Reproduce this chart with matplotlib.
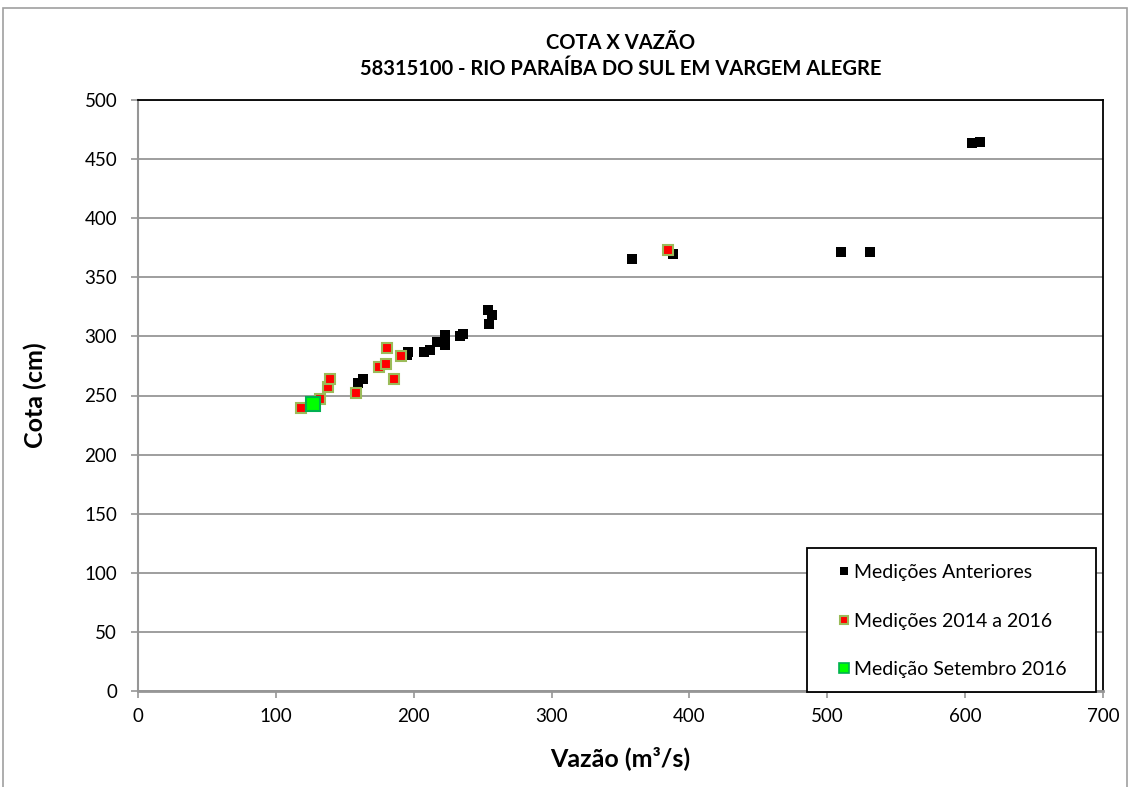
import matplotlib.pyplot as plt
from matplotlib.lines import Line2D
from matplotlib.patches import Rectangle

plt.rcParams['font.family'] = ['Lato', 'DejaVu Sans']

# Medições anteriores (vazão m3/s, cota cm)
ant_q = [159.8, 163.0, 195.0, 196.0, 207.5, 211.8, 216.7, 222.7, 222.7, 233.6, 236.0,
         254.1, 256.5, 254.8, 358.0, 388.0, 510.0, 531.0, 605.0, 611.0]
ant_h = [260.8, 263.7, 284.3, 287.0, 286.5, 288.5, 295.5, 292.7, 301.2, 300.3, 301.8,
         322.3, 318.0, 310.5, 365.5, 369.5, 371.0, 371.0, 463.5, 464.5]

# Medições 2014 a 2016
rec_q = [118.0, 132.0, 138.0, 139.3, 158.1, 174.8, 179.9, 180.9, 185.9, 190.8, 384.2]
rec_h = [239.2, 246.8, 257.0, 263.7, 252.4, 273.8, 276.6, 290.0, 264.2, 283.4, 373.4]

# Medição Setembro 2016
set_q = [127.2]
set_h = [242.8]

labels = ['Medições Anteriores', 'Medições 2014 a 2016', 'Medição Setembro 2016']

W, H = 1131, 787
fig = plt.figure(figsize=(W / 100, H / 100), dpi=100)
ax = fig.add_axes([138 / W, 1 - 691 / H, 965 / W, 591 / H])

ax.plot(ant_q, ant_h, 's', color='black', markersize=6.5, markeredgewidth=0, zorder=3)
ax.plot(rec_q, rec_h, 's', color='#ff0000', markeredgecolor='#9bbb59', markersize=6.5,
        markeredgewidth=1.5, zorder=4)
ax.plot(set_q, set_h, 's', color='#00ff00', markeredgecolor='#00b050', markersize=10.5,
        markeredgewidth=1.5, zorder=5)

ax.set_xlim(0, 700)
ax.set_ylim(0, 500)
ax.set_xticks(range(0, 701, 100))
ax.set_yticks(range(0, 501, 50))
ax.grid(axis='y', color='#969696', linewidth=1.3)
ax.set_axisbelow(True)

for s in ['top', 'right']:
    ax.spines[s].set_color('black')
    ax.spines[s].set_linewidth(1.3)
ax.spines['left'].set_color('#969696')
ax.spines['left'].set_linewidth(1.5)
ax.spines['bottom'].set_color('#969696')
ax.spines['bottom'].set_linewidth(2)
ax.tick_params(axis='both', colors='#969696', labelcolor='black', labelsize=13.5,
               length=5, width=1.2, direction='out')
ax.tick_params(axis='y', pad=10)
ax.tick_params(axis='x', pad=7)

ax.set_xlabel('Vazão (m³/s)', fontsize=18, fontweight='bold')
ax.set_ylabel('Cota (cm)', fontsize=18, fontweight='bold')
ax.xaxis.label.set_va('center')
ax.yaxis.label.set_va('center')
ax.xaxis.set_label_coords(0.5, (691 - 758) / 591)
ax.yaxis.set_label_coords((35 - 138) / 965, 0.5)

fig.text(0.5 * (138 + 1103) / W, 1 - 56 / H,
         'COTA X VAZÃO\n58315100 - RIO PARAÍBA DO SUL EM VARGEM ALEGRE',
         ha='center', va='center', fontsize=14.5, fontweight='bold', linespacing=1.35)

# caixa da legenda
ax.add_patch(Rectangle((807 / W, 1 - 692 / H), 289 / W, 144 / H, transform=fig.transFigure,
                       facecolor='white', edgecolor='black', linewidth=1.3,
                       clip_on=False, zorder=4.8))

handles = [
    Line2D([], [], ls='none', marker='s', color='black', markersize=6, markeredgewidth=0),
    Line2D([], [], ls='none', marker='s', color='#ff0000', markeredgecolor='#9bbb59',
           markersize=6, markeredgewidth=1.5),
    Line2D([], [], ls='none', marker='s', color='#00ff00', markeredgecolor='#00b050',
           markersize=7.5, markeredgewidth=1.2),
]
leg = ax.legend(handles, labels, loc='upper left', bbox_to_anchor=(836 / W, 1 - 564 / H),
                bbox_transform=fig.transFigure, fontsize=14, frameon=False, borderpad=0,
                labelspacing=1.62, handletextpad=0.15, handlelength=0.8, borderaxespad=0)

# borda externa do gráfico
fig.patches.append(Rectangle((3 / W, -0.01), 1124 / W, 1 - 8 / H + 0.01,
                             transform=fig.transFigure, fill=False, edgecolor='#a0a0a0',
                             linewidth=1.2))

fig.savefig('out.png', dpi=100)
